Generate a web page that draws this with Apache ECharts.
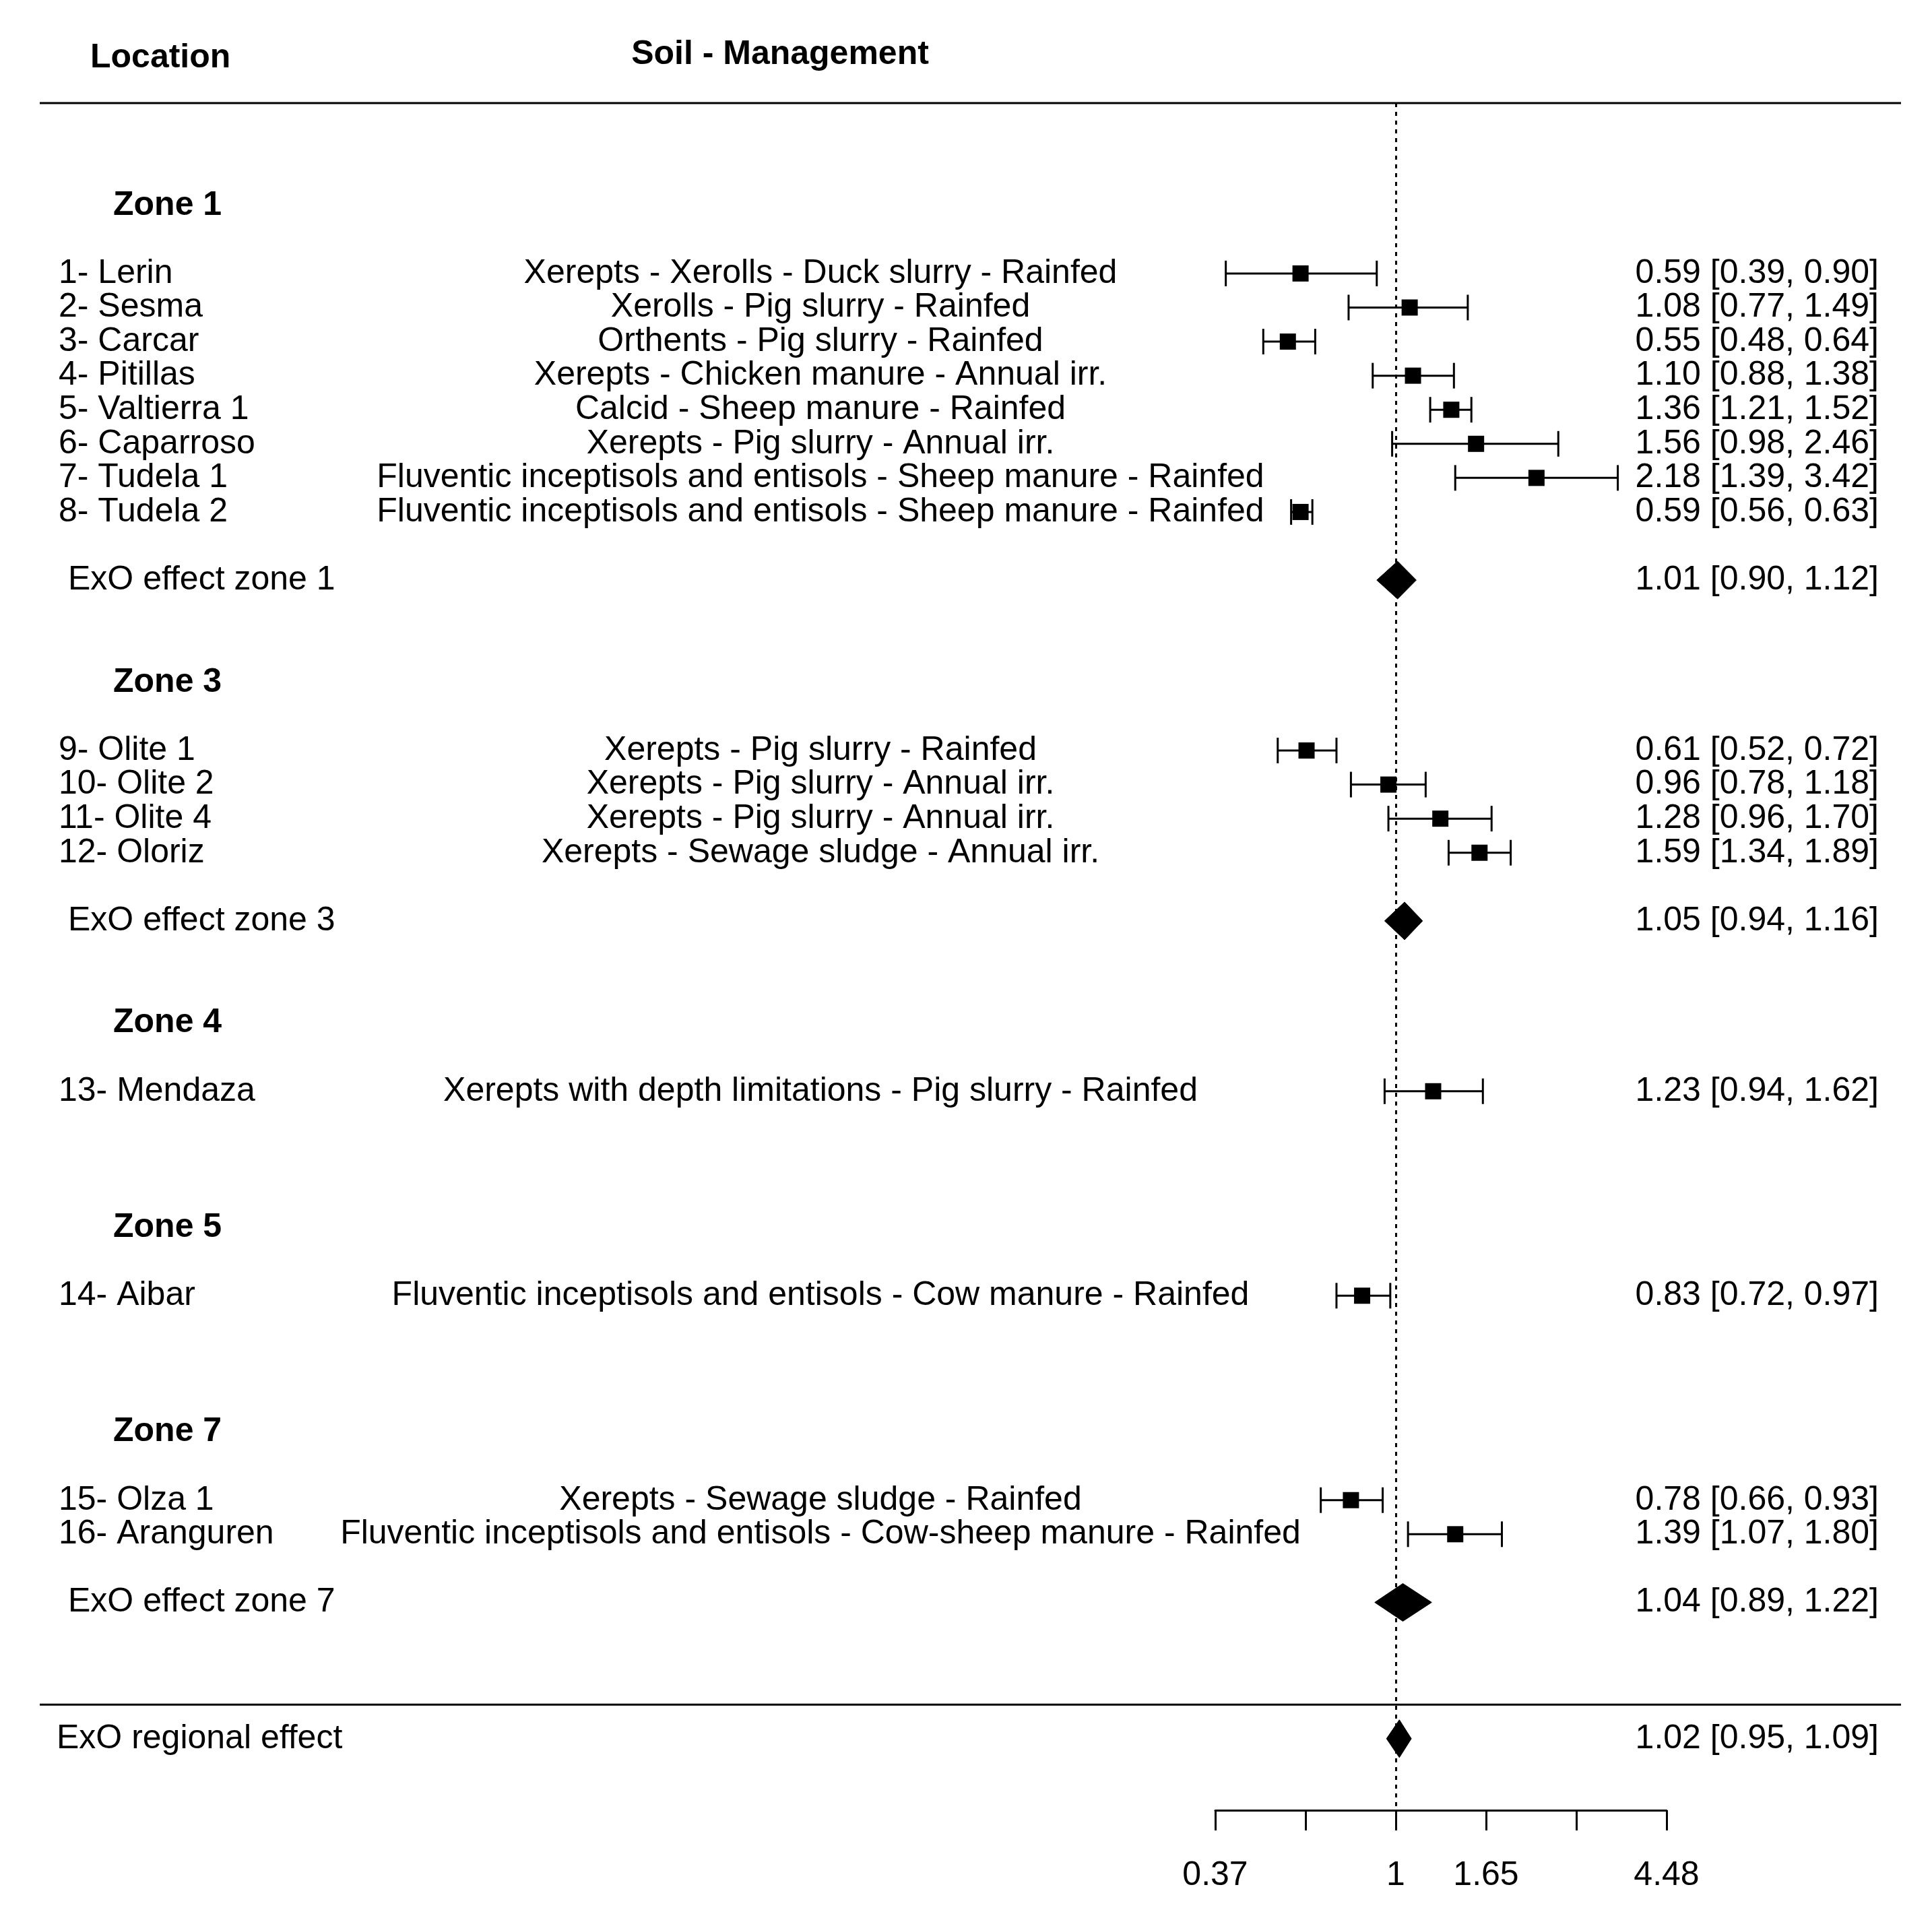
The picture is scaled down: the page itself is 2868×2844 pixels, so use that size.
<!DOCTYPE html>
<html>
<head>
<meta charset="utf-8">
<script src="https://cdn.jsdelivr.net/npm/echarts@6/dist/echarts.min.js"></script>
<style>
html,body{margin:0;padding:0;background:#fff;overflow:hidden;}
#chart{width:2868px;height:2844px;}
</style>
</head>
<body>
<div id="chart"></div>
<script>
// ---------- data ----------
const locations = ['1- Lerin','2- Sesma','3- Carcar','4- Pitillas','5- Valtierra 1','6- Caparroso','7- Tudela 1','8- Tudela 2',
  '9- Olite 1','10- Olite 2','11- Olite 4','12- Oloriz','13- Mendaza','14- Aibar','15- Olza 1','16- Aranguren'];
const soilManagement = [
  'Xerepts - Xerolls - Duck slurry - Rainfed',
  'Xerolls - Pig slurry - Rainfed',
  'Orthents - Pig slurry - Rainfed',
  'Xerepts - Chicken manure - Annual irr.',
  'Calcid - Sheep manure - Rainfed',
  'Xerepts - Pig slurry - Annual irr.',
  'Fluventic inceptisols and entisols - Sheep manure - Rainfed',
  'Fluventic inceptisols and entisols - Sheep manure - Rainfed',
  'Xerepts - Pig slurry - Rainfed',
  'Xerepts - Pig slurry - Annual irr.',
  'Xerepts - Pig slurry - Annual irr.',
  'Xerepts - Sewage sludge - Annual irr.',
  'Xerepts with depth limitations - Pig slurry - Rainfed',
  'Fluventic inceptisols and entisols - Cow manure - Rainfed',
  'Xerepts - Sewage sludge - Rainfed',
  'Fluventic inceptisols and entisols - Cow-sheep manure - Rainfed'];
const studyRows = [0,1,2,3,4,5,6,7,14,15,16,17,24,30,36,37];
const studyEst = [0.59,1.08,0.55,1.10,1.36,1.56,2.18,0.59,0.61,0.96,1.28,1.59,1.23,0.83,0.78,1.39];
const studyLo  = [0.39,0.77,0.48,0.88,1.21,0.98,1.39,0.56,0.52,0.78,0.96,1.34,0.94,0.72,0.66,1.07];
const studyHi  = [0.90,1.49,0.64,1.38,1.52,2.46,3.42,0.63,0.72,1.18,1.70,1.89,1.62,0.97,0.93,1.80];

const zoneNames = ['Zone 1','Zone 3','Zone 4','Zone 5','Zone 7'];
const zoneRows = [-2,12,22,28,34];

const summaryNames = ['ExO effect zone 1','ExO effect zone 3','ExO effect zone 7','ExO regional effect'];
const summaryRows = [9,19,39,43];
const summaryEst = [1.01,1.05,1.04,1.02];
const summaryLo  = [0.90,0.94,0.89,0.95];
const summaryHi  = [1.12,1.16,1.22,1.09];

const ruleRows = [-5,42];
const xTickValues = [-1,-0.5,0,0.5,1,1.5];
const xTickLabels = ['0.37','','1','1.65','','4.48'];

// ---------- label maps ----------
const FONT = 'Liberation Sans, Arial, sans-serif';
const FS = 50;
const leftLab = {}, midLab = {}, rightLab = {};
const f2 = v => v.toFixed(2);
locations.forEach((n,i)=>{ leftLab[studyRows[i]] = '{loc|'+n+'}'; midLab[studyRows[i]] = soilManagement[i];
  rightLab[studyRows[i]] = f2(studyEst[i])+' ['+f2(studyLo[i])+', '+f2(studyHi[i])+']'; });
zoneNames.forEach((n,i)=>{ leftLab[zoneRows[i]] = '{zone|'+n+'}'; });
summaryNames.forEach((n,i)=>{ leftLab[summaryRows[i]] = (i===summaryNames.length-1 ? '{reg|' : '{exo|')+n+'}';
  rightLab[summaryRows[i]] = f2(summaryEst[i])+' ['+f2(summaryLo[i])+', '+f2(summaryHi[i])+']'; });
const pick = m => v => { const r = Math.round(v); return Math.abs(v-r)<1e-6 && m[r]!==undefined ? m[r] : ''; };

const ln = Math.log;
const ciData = studyRows.map((r,i)=>[ln(studyLo[i]), ln(studyHi[i]), r]);
const sqData = studyRows.map((r,i)=>[ln(studyEst[i]), r]);
const dmData = summaryRows.map((r,i)=>[ln(summaryLo[i]), ln(summaryEst[i]), ln(summaryHi[i]), r]);

const baseY = {
  type:'value', inverse:true, min:-5, max:45.1, interval:1,
  axisLine:{show:false}, axisTick:{show:false}, splitLine:{show:false}
};

const chart = echarts.init(document.getElementById('chart'), null, {renderer:'canvas'});
chart.setOption({
  backgroundColor:'#ffffff',
  animation:false,
  textStyle:{fontFamily:FONT},
  grid:{left:1804, right:394, top:153, bottom:157, containLabel:false, outerBoundsMode:'none'},
  xAxis:{
    type:'value', min:-1, max:1.5, interval:0.5,
    axisLine:{show:true, onZero:false, lineStyle:{color:'#000', width:3}},
    axisTick:{show:true, length:30, lineStyle:{color:'#000', width:3}},
    splitLine:{show:false},
    axisLabel:{fontFamily:FONT, fontSize:FS, color:'#000', margin:72,
      formatter:v=>{ const k = xTickValues.findIndex(t=>Math.abs(t-v)<1e-6); return k>=0 ? xTickLabels[k] : ''; }}
  },
  yAxis:[
    Object.assign({}, baseY, {position:'left', axisLabel:{align:'left', margin:1720, color:'#000', fontFamily:FONT, fontSize:FS,
      formatter:pick(leftLab),
      rich:{
        loc:{fontFamily:FONT, fontSize:FS, color:'#000', padding:[0,0,0,3]},
        exo:{fontFamily:FONT, fontSize:FS, color:'#000', padding:[0,0,0,17]},
        reg:{fontFamily:FONT, fontSize:FS, color:'#000', padding:[0,0,0,0]},
        zone:{fontFamily:FONT, fontSize:FS, color:'#000', fontWeight:'bold', padding:[0,0,0,84]}
      }}}),
    Object.assign({}, baseY, {position:'left', axisLabel:{align:'center', margin:586, color:'#000', fontFamily:FONT, fontSize:FS,
      formatter:pick(midLab)}}),
    Object.assign({}, baseY, {position:'right', axisLabel:{align:'right', margin:315, color:'#000', fontFamily:FONT, fontSize:FS,
      formatter:pick(rightLab)}})
  ],
  graphic:[
    {type:'text', left:134, top:61, style:{text:'Location', font:'bold '+FS+'px '+FONT, fill:'#000'}},
    {type:'text', x:1158, y:81, style:{text:'Soil - Management', font:'bold '+FS+'px '+FONT, fill:'#000', textAlign:'center', textVerticalAlign:'middle'}}
  ],
  series:[
    { // horizontal rules
      type:'custom', yAxisIndex:0, clip:false, silent:true,
      data:ruleRows.map(r=>[0,r]), encode:{x:0,y:1},
      renderItem:(params, api)=>{
        const y = api.coord([0, api.value(1)])[1];
        return {type:'line', shape:{x1:59, y1:y, x2:2822, y2:y}, style:{stroke:'#000', lineWidth:3}};
      }
    },
    { // confidence intervals
      type:'custom', yAxisIndex:0, silent:true,
      data:ciData, encode:{x:[0,1], y:2},
      renderItem:(params, api)=>{
        const a = api.coord([api.value(0), api.value(2)]);
        const b = api.coord([api.value(1), api.value(2)]);
        const h = 19;
        const st = {stroke:'#000', lineWidth:3};
        return {type:'group', children:[
          {type:'line', shape:{x1:a[0], y1:a[1], x2:b[0], y2:b[1]}, style:st},
          {type:'line', shape:{x1:a[0], y1:a[1]-h, x2:a[0], y2:a[1]+h}, style:st},
          {type:'line', shape:{x1:b[0], y1:b[1]-h, x2:b[0], y2:b[1]+h}, style:st}
        ]};
      }
    },
    { // point estimates
      type:'scatter', yAxisIndex:0, silent:true, symbol:'rect', symbolSize:24,
      itemStyle:{color:'#000', opacity:1}, data:sqData, z:3,
      markLine:{silent:true, symbol:['none','none'], label:{show:false},
        lineStyle:{color:'#000', width:3, type:[6,7], opacity:1}, data:[{xAxis:0}]}
    },
    { // summary diamonds
      type:'custom', yAxisIndex:0, silent:true, z:4,
      data:dmData, encode:{x:[0,1,2], y:3},
      renderItem:(params, api)=>{
        const r = api.value(3);
        const l = api.coord([api.value(0), r]);
        const m = api.coord([api.value(1), r]);
        const h = api.coord([api.value(2), r]);
        const hh = 28;
        return {type:'polygon', shape:{points:[[l[0],l[1]],[m[0],m[1]-hh],[h[0],h[1]],[m[0],m[1]+hh]]},
          style:{fill:'#000', stroke:'#000', lineWidth:1}};
      }
    }
  ]
});
</script>
</body>
</html>
